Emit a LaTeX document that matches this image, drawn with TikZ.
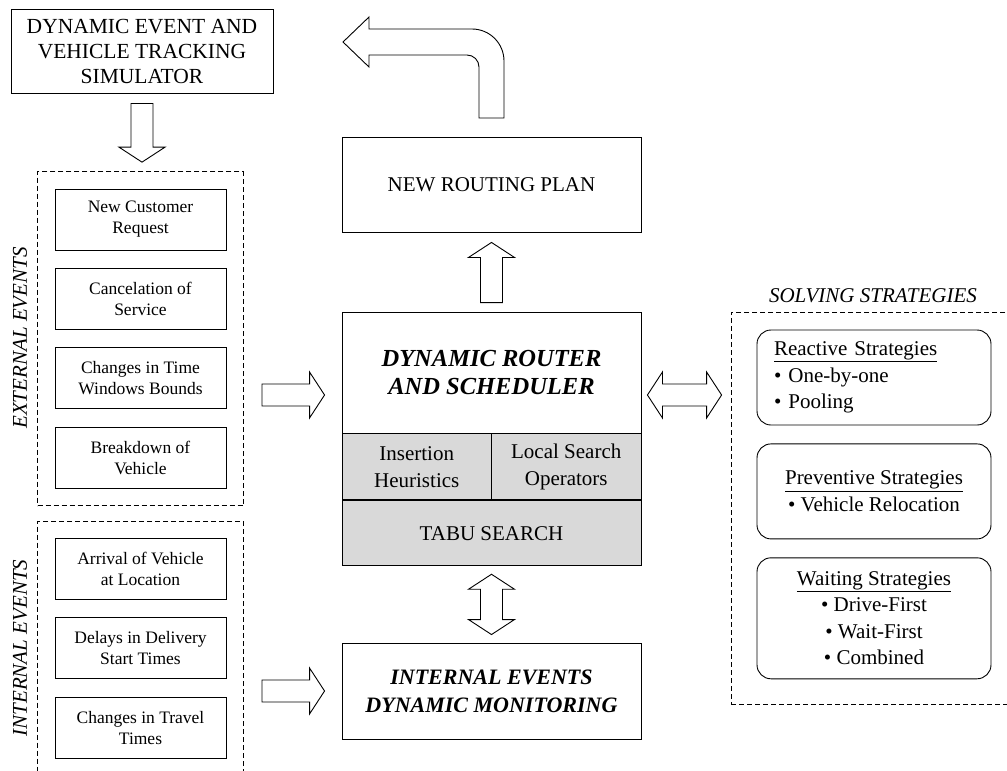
\documentclass[tikz,border=0pt]{standalone}
\usepackage{fontspec}
\setmainfont{Liberation Serif}
\usetikzlibrary{positioning,calc,fit}
\definecolor{cGray}{HTML}{D9D9D9}

% block arrow from #1 to #2
\newcommand{\fatarrow}[2]{%
  \coordinate (fh) at ($(#2)!15pt!(#1)$);
  \draw[fat] ($(#1)!11pt!90:(#2)$) -- ($(fh)!11pt!90:(#2)$) -- ($(fh)!23pt!90:(#2)$) -- (#2)
    -- ($(fh)!23pt!-90:(#2)$) -- ($(fh)!11pt!-90:(#2)$) -- ($(#1)!11pt!-90:(#2)$) -- cycle;}
% block arrow with heads at both ends
\newcommand{\fatdarrow}[2]{%
  \coordinate (fa) at ($(#1)!15pt!(#2)$);
  \coordinate (fb) at ($(#2)!15pt!(#1)$);
  \draw[fat] (#1) -- ($(fa)!23pt!90:(#2)$) -- ($(fa)!11pt!90:(#2)$) -- ($(fb)!11pt!-90:(#1)$)
    -- ($(fb)!23pt!-90:(#1)$) -- (#2) -- ($(fb)!23pt!90:(#1)$) -- ($(fb)!11pt!90:(#1)$)
    -- ($(fa)!11pt!-90:(#2)$) -- ($(fa)!23pt!-90:(#2)$) -- cycle;}

\begin{document}
\begin{tikzpicture}[x=1pt,y=-1pt,
    box/.style={draw,line width=0.9pt,minimum width=171pt,minimum height=61pt,inner sep=0pt,
      align=center,font=\fontsize{17.5}{21}\selectfont},
    bigbox/.style={draw,line width=0.9pt,inner sep=0pt,align=center,font=\fontsize{21}{27}\selectfont},
    dashbox/.style={draw,line width=0.8pt,dash pattern=on 5pt off 3pt},
    fat/.style={draw,line width=0.9pt,fill=white,line join=miter},
    strat/.style={draw,line width=0.9pt,rounded corners=14pt,minimum width=234pt,inner sep=0pt,
      font=\fontsize{21}{26.5}\selectfont},
    side/.style={rotate=90,font=\fontsize{21}{25}\selectfont\itshape}]
  \useasboundingbox (0,0) rectangle (1007,771);

  % simulator
  \node[bigbox,minimum width=262pt,minimum height=84pt,font=\fontsize{21.5}{25}\selectfont] (sim) at (142,51)
    {DYNAMIC EVENT AND\\VEHICLE TRACKING\\SIMULATOR};

  % external events
  \node[box] (req) at (140.5,219.5) {New Customer\\Request};
  \node[box,below=17.5pt of req] (cancel) {Cancelation of\\Service};
  \node[box,below=17.5pt of cancel] (tw) {Changes in Time\\Windows Bounds};
  \node[box,below=17.5pt of tw] (brk) {Breakdown of\\Vehicle};
  \node[dashbox,fit=(req)(brk),inner sep=17pt] (ext) {};
  \node[side] (extlbl) at (20,338) {EXTERNAL EVENTS};

  % internal events
  \node[box] (arr) at (140.5,569) {Arrival of Vehicle\\at Location};
  \node[box,below=17.5pt of arr] (delay) {Delays in Delivery\\Start Times};
  \node[box,below=17.5pt of delay] (trav) {Changes in Travel\\Times};
  \node[dashbox,fit=(arr)(trav),inner sep=17pt] (int) {};
  \node[side] (intlbl) at (20,648) {INTERNAL EVENTS};

  % router and scheduler
  \node[bigbox,minimum width=299pt,minimum height=95pt] (nrp) at (491.5,184.5) {NEW ROUTING PLAN};
  \node[bigbox,minimum width=299pt,minimum height=121pt,font=\fontsize{24.5}{28}\selectfont\bfseries\itshape]
    (dsr) at (491.5,372.5) {DYNAMIC ROUTER\\AND SCHEDULER};
  \node[bigbox,fill=cGray,minimum width=149.5pt,minimum height=66pt,anchor=north west] (ins)
    at (dsr.south west) {Insertion\\Heuristics};
  \node[bigbox,fill=cGray,minimum width=149.5pt,minimum height=66pt,anchor=north east] (lso)
    at (dsr.south east) {Local Search\\Operators};
  \node[bigbox,fill=cGray,minimum width=299pt,minimum height=65pt,anchor=north west] (tabu)
    at (ins.south west) {TABU SEARCH};
  \node[bigbox,minimum width=299pt,minimum height=96pt,font=\fontsize{22}{28}\selectfont\bfseries\itshape]
    (mon) at (491.5,691) {INTERNAL EVENTS\\DYNAMIC MONITORING};

  % solving strategies
  \node[dashbox,minimum width=281pt,minimum height=392pt] (solv) at (871.5,508) {};
  \node[font=\fontsize{21}{25}\selectfont\itshape] (solvlbl) at (873,296) {SOLVING STRATEGIES};
  \node[strat,minimum height=95pt,text width=200pt,align=left] (reac) at (874,377.5)
    {\underline{Reactive Strategies}\\\textbullet\ One-by-one\\\textbullet\ Pooling};
  \node[strat,minimum height=95pt,align=center,below=18pt of reac] (prev)
    {\underline{Preventive Strategies}\\\textbullet\ Vehicle Relocation};
  \node[strat,minimum height=121pt,align=center,below=18pt of prev] (wait)
    {\underline{Waiting Strategies}\\\textbullet\ Drive-First\\\textbullet\ Wait-First\\\textbullet\ Combined};

  % block arrows
  \coordinate (s1) at ([yshift=-10pt]sim.south);
  \coordinate (s2) at ([yshift=9pt]s1 |- ext.north);
  \coordinate (e1) at (262,395);
  \coordinate (e2) at ([xshift=-17pt]dsr.west |- e1);
  \coordinate (i1) at (262,691);
  \coordinate (i2) at ([xshift=-17pt]mon.west);
  \coordinate (u1) at ([yshift=9pt]dsr.north);
  \coordinate (u2) at ([yshift=-10pt]nrp.south);
  \coordinate (v1) at ([yshift=-8pt]tabu.south);
  \coordinate (v2) at ([yshift=8pt]mon.north);
  \coordinate (h1) at ([xshift=6pt]dsr.east |- e1);
  \coordinate (h2) at ([xshift=-9pt]solv.west |- e1);
  \fatarrow{s1}{s2}
  \fatarrow{e1}{e2}
  \fatarrow{i1}{i2}
  \fatarrow{u1}{u2}
  \fatdarrow{v1}{v2}
  \fatdarrow{h1}{h2}

  % bent arrow out of the new plan
  \draw[fat] (504,118) [rounded corners=32pt] -- (504,29) -- (420,29) [sharp corners] -- (369,29)
    -- (369,17) -- (343,42) -- (369,67) -- (369,55) -- (400,55) [rounded corners=12pt] -- (479,55)
    -- (479,90) [sharp corners] -- (479,118) -- cycle;
\end{tikzpicture}
\end{document}
